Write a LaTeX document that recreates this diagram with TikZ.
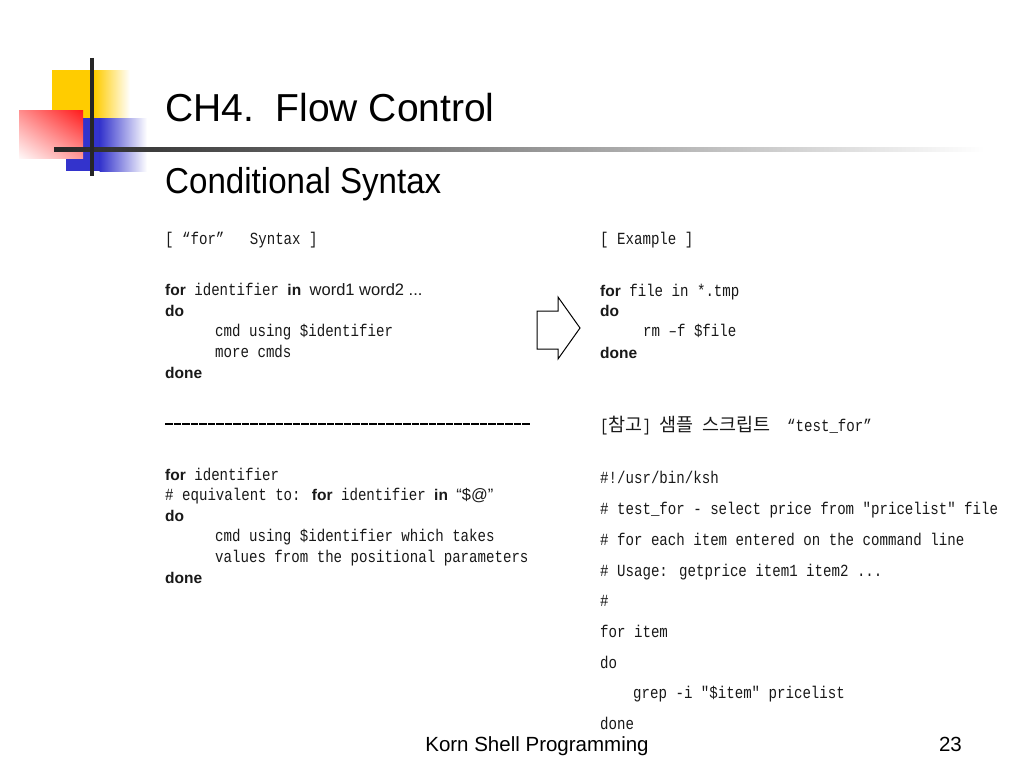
\documentclass[tikz,border=0pt]{standalone}
\usepackage{fontspec}
\usetikzlibrary{shadings}
\setmainfont{Liberation Sans}
\newfontfamily\mono[FakeStretch=0.83,Ligatures=TeXOff]{Liberation Mono}
\newfontfamily\kw{Liberation Sans}
\newfontfamily\subt[FakeStretch=0.92]{Liberation Sans}
\newfontfamily\cjk{Noto Sans CJK KR}
\newcommand\kwd[1]{{\kw\bfseries\fontsize{15.5}{20}\selectfont #1}}
\newcommand\sns[1]{{\kw\fontsize{16.5}{20}\selectfont #1}}
\newcommand\hang[1]{{\cjk\fontsize{18.5}{20}\selectfont #1}}
\definecolor{logoyellow}{HTML}{FFCC00}
\definecolor{logoblue}{HTML}{3333CC}
\definecolor{logored}{HTML}{FF1A1A}
\tikzset{
  code/.style={anchor=base west, inner sep=0pt, text=black!90, font=\mono\fontsize{17}{20}\selectfont},
  title/.style={anchor=base west, inner sep=0pt, font=\fontsize{39}{44}\selectfont},
  subtitle/.style={anchor=base west, inner sep=0pt, font=\subt\fontsize{36}{40}\selectfont},
  foot/.style={inner sep=0pt, font=\fontsize{20.5}{24}\selectfont},
  blockarrow/.style={draw=black, line width=1pt, fill=white, line join=miter},
}
\begin{document}
\begin{tikzpicture}[x=1pt,y=-1pt]
\useasboundingbox (0,0) rectangle (1024,768);
\fill[white] (0,0) rectangle (1024,768);
% logo
\fill[logoyellow] (52,70) rectangle (95,118);
\shade[left color=logoyellow, right color=white] (94.5,70) rectangle (130,118);
\fill[logoblue] (66,118) rectangle (100,171);
\shade[left color=logoblue, right color=white] (99.5,118) rectangle (147,171);
\shade[upper left=logored!50!white, upper right=logored, lower left=logored!3!white, lower right=logored!45!white] (19,110) rectangle (83,158);
\shade[left color=black!85, right color=white] (54,147) rectangle (985,151);
\draw[black!85, line width=4pt] (92,58) -- (92,176);
% titles
\node[title] (ttl) at (165,121) {CH4.\ \ Flow Control};
\node[subtitle] (sub) at (165,193) {Conditional Syntax};
% left column
\node[code] (l1) at (165,244) {[ “for”\ \ \ Syntax ]};
\node[code] (l2) at (165,295) {\kwd{for} identifier \kwd{in} \sns{word1 word2 ...}};
\node[code] (l3) at (165,316) {\kwd{do}};
\node[code] (l4) at (215,336) {cmd using \$identifier};
\node[code] (l5) at (215,357) {more cmds};
\node[code] (l6) at (165,378) {\kwd{done}};
\draw[black, line width=1.3pt, dash pattern=on 7.5pt off 1pt] (165,424) -- (530,424);
\node[code] (l7) at (165,480) {\kwd{for} identifier};
\node[code] (l8) at (165,500) {\# equivalent to: \kwd{for} identifier \kwd{in} \sns{“\$@”}};
\node[code] (l9) at (165,521) {\kwd{do}};
\node[code] (l10) at (215,541) {cmd using \$identifier which takes};
\node[code] (l11) at (215,562) {values from the positional parameters};
\node[code] (l12) at (165,583) {\kwd{done}};
% arrow
\draw[blockarrow] (537,311) -- (558,311) -- (558,297) -- (580,328) -- (558,359) -- (558,349) -- (537,349) -- cycle;
% right column
\node[code] (r1) at (600,244) {[ Example ]};
\node[code] (r2) at (600,296) {\kwd{for} file in *.tmp};
\node[code] (r3) at (600,316) {\kwd{do}};
\node[code] (r4) at (643,336) {rm –f \$file};
\node[code] (r5) at (600,358) {\kwd{done}};
\node[code] (r6) at (600,431) {[\hang{참고}] \hang{샘플} \hang{스크립트}\ \ “test\_for”};
\node[code] (r7) at (600,483) {\#!/usr/bin/ksh};
\node[code] (r8) at (600,514) {\# test\_for - select price from "pricelist" file};
\node[code] (r9) at (600,545) {\# for each item entered on the command line};
\node[code] (r10) at (600,576) {\# Usage: getprice item1 item2 ...};
\node[code] (r11) at (600,606) {\#};
\node[code] (r12) at (600,637) {for item};
\node[code] (r13) at (600,668) {do};
\node[code] (r14) at (633,698) {grep -i "\$item" pricelist};
\node[code] (r15) at (600,729) {done};
% footer
\node[foot, anchor=base] (ft) at (537,751) {Korn Shell Programming};
\node[foot, anchor=base east] (pg) at (962,751) {23};
\end{tikzpicture}
\end{document}
